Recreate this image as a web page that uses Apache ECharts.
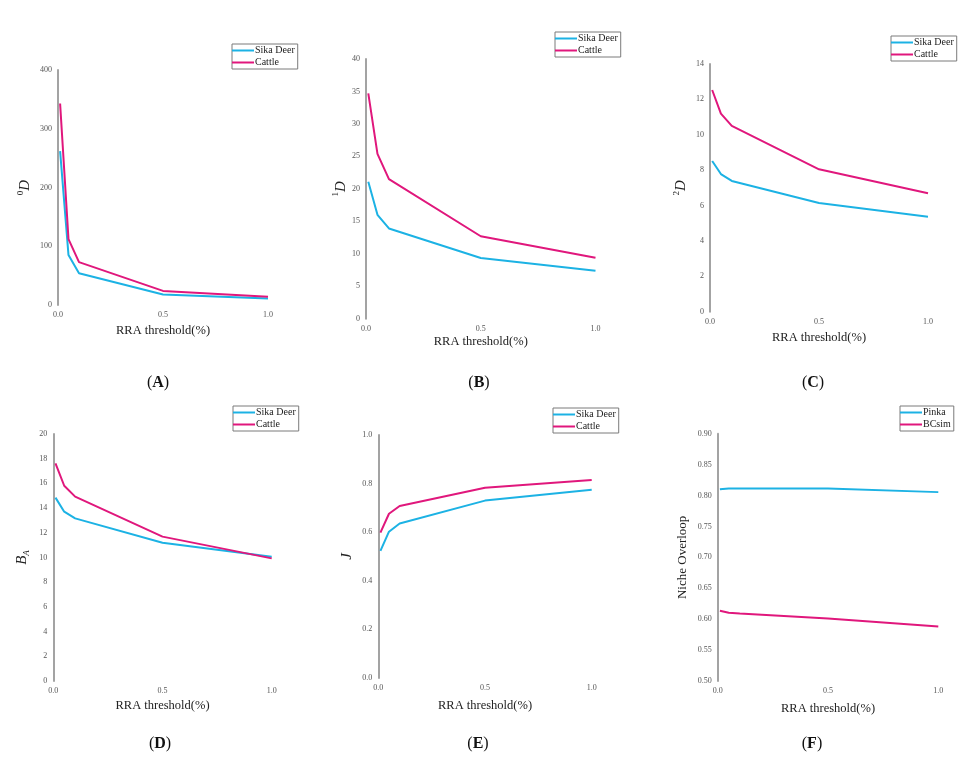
<!DOCTYPE html>
<html>
<head>
<meta charset="utf-8">
<script src="https://cdn.jsdelivr.net/npm/echarts@6/dist/echarts.min.js"></script>
<style>html,body{margin:0;padding:0;background:#fff;}#c{width:978px;height:766px;}</style>
</head>
<body>
<div id="c"></div>
<script>
// ---- data ----
const thresholds = [0.01, 0.05, 0.1, 0.5, 1.0];
const xTickLabels = ['0.0', '0.5', '1.0'];

const sikaD0   = [262, 85, 54, 18, 11];
const cattleD0 = [343, 112, 73, 24, 14];

const sikaD1   = [21.1, 16.0, 13.9, 9.35, 7.4];
const cattleD1 = [34.7, 25.4, 21.5, 12.7, 9.4];

const sikaD2   = [8.52, 7.78, 7.39, 6.14, 5.37];
const cattleD2 = [12.53, 11.2, 10.5, 8.05, 6.69];

const sikaBA   = [14.85, 13.71, 13.17, 11.2, 10.07];
const cattleBA = [17.62, 15.81, 14.93, 11.69, 9.93];

const sikaJ    = [0.523, 0.602, 0.636, 0.73, 0.775];
const cattleJ  = [0.598, 0.676, 0.708, 0.783, 0.815];

const pinka    = [0.810, 0.8115, 0.8115, 0.8115, 0.8055];
const bcsim    = [0.6137, 0.6105, 0.609, 0.601, 0.588];

const seriesNamesDeer = ['Sika Deer', 'Cattle'];
const seriesNamesNiche = ['Pinka', 'BCsim'];
const panelLabels = ['A', 'B', 'C', 'D', 'E', 'F'];

// ---- layout ----
const BLUE = '#1cb2e4', PINK = '#e0177c';
const SERIF = '"Liberation Serif","DejaVu Serif",serif';

const panels = [
  {grid:{left:58, top:70, width:210, height:235}, y:{min:0,max:400,interval:100,dec:0},
   yName:'{s|0}{d|D}', yGap:24, xGap:19, legend:{left:232, top:44}, names:seriesNamesDeer, data:[sikaD0,cattleD0], label:[158,383]},
  {grid:{left:366, top:59, width:229.5, height:259.7}, y:{min:0,max:40,interval:5,dec:0},
   yName:'{s|1}{d|D}', yGap:14, xGap:17, legend:{left:555, top:32}, names:seriesNamesDeer, data:[sikaD1,cattleD1], label:[479,383]},
  {grid:{left:710, top:64, width:218, height:247.7}, y:{min:0,max:14,interval:2,dec:0},
   yName:'{s|2}{d|D}', yGap:20, xGap:20, legend:{left:891, top:36}, names:seriesNamesDeer, data:[sikaD2,cattleD2], label:[813,383]},
  {grid:{left:53.3, top:434, width:218.4, height:247}, y:{min:0,max:20,interval:2,dec:0},
   yName:'{d|B}{sub|A}', yGap:22, xGap:18, legend:{left:233, top:406}, names:seriesNamesDeer, data:[sikaBA,cattleBA], label:[160,744]},
  {grid:{left:378.3, top:435, width:213.4, height:243}, y:{min:0,max:1,interval:0.2,dec:1},
   yName:'{d|J}', yGap:22, xGap:21, legend:{left:553, top:408}, names:seriesNamesDeer, data:[sikaJ,cattleJ], label:[478,744]},
  {grid:{left:717.7, top:433.7, width:220.6, height:247.3}, y:{min:0.5,max:0.9,interval:0.05,dec:2},
   yName:'Niche Overloop', yGap:29, xGap:21, legend:{left:900, top:406}, names:seriesNamesNiche, data:[pinka,bcsim], label:[812,744]}
];

const grids = [], xAxes = [], yAxes = [], series = [], legends = [], graphics = [];
panels.forEach((p, i) => {
  grids.push(Object.assign({containLabel:false}, p.grid));
  xAxes.push({
    type:'value', gridIndex:i, min:0, max:1, interval:0.5,
    axisLine:{show:false}, axisTick:{show:false}, splitLine:{show:false},
    axisLabel:{fontFamily:SERIF, fontSize:8, color:'#555', margin:6,
      formatter:(v)=>xTickLabels[Math.round(v/0.5)]},
    name:'RRA threshold(%)', nameLocation:'middle', nameGap:p.xGap,
    nameTextStyle:{fontFamily:SERIF, fontSize:12.5, color:'#222'}
  });
  yAxes.push({
    type:'value', gridIndex:i, min:p.y.min, max:p.y.max, interval:p.y.interval,
    axisLine:{show:true, lineStyle:{color:'#a3a3a3', width:2}},
    axisTick:{show:false}, splitLine:{show:false},
    axisLabel:{fontFamily:SERIF, fontSize:8, color:'#555', margin:6,
      formatter:(v)=>v.toFixed(p.y.dec)},
    name:p.yName, nameLocation:'middle', nameGap:p.yGap, nameRotate:90,
    nameTextStyle:{fontFamily:SERIF, fontSize:13, color:'#222',
      rich:{
        s:{fontFamily:SERIF, fontSize:9, color:'#222', verticalAlign:'top', lineHeight:18},
        d:{fontFamily:SERIF, fontSize:15, fontStyle:'italic', color:'#222', lineHeight:18},
        sub:{fontFamily:SERIF, fontSize:9, fontStyle:'italic', color:'#222', verticalAlign:'bottom', lineHeight:18}
      }}
  });
  p.names.forEach((nm, k) => {
    series.push({
      type:'line', name:nm, xAxisIndex:i, yAxisIndex:i,
      data: thresholds.map((t, j) => [t, p.data[k][j]]),
      symbol:'none', lineStyle:{width:2, color: k === 0 ? BLUE : PINK},
      itemStyle:{color: k === 0 ? BLUE : PINK},
      emphasis:{disabled:true}, z: k === 0 ? 2 : 3
    });
  });
  legends.push({
    data:p.names, orient:'vertical', left:p.legend.left, top:p.legend.top,
    icon:'rect', itemWidth:22, itemHeight:2, itemGap:1,
    padding:[1,3,1,0], borderColor:'#7a7a7a', borderWidth:1, backgroundColor:'#fff',
    selectedMode:false,
    textStyle:{fontFamily:SERIF, fontSize:10, color:'#222', lineHeight:11, padding:[0,0,0,-4]}
  });
  graphics.push({
    type:'text', x:p.label[0], y:p.label[1],
    style:{text:'({b|' + panelLabels[i] + '})', fontFamily:SERIF, fontSize:16, fill:'#111',
      textAlign:'center', textVerticalAlign:'middle',
      rich:{b:{fontFamily:SERIF, fontSize:16, fontWeight:'bold', fill:'#111'}}}
  });
});

const chart = echarts.init(document.getElementById('c'), null, {renderer:'canvas'});
chart.setOption({
  animation:false,
  backgroundColor:'#fff',
  grid:grids, xAxis:xAxes, yAxis:yAxes, series:series, legend:legends, graphic:graphics
});
</script>
</body>
</html>
